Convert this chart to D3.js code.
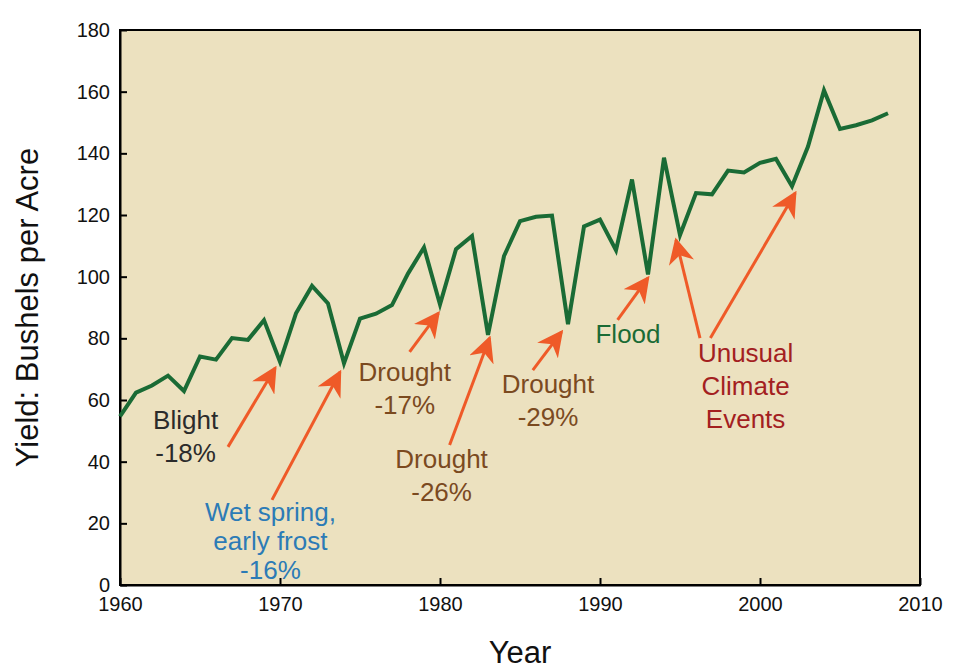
<!DOCTYPE html>
<html><head><meta charset="utf-8">
<script src="https://cdn.jsdelivr.net/npm/d3@7"></script>
<style>body{margin:0;background:#fff;font-family:"Liberation Sans",Arial,sans-serif}</style>
</head><body><svg id="chart" width="955" height="669"></svg>
<script>
const years = d3.range(1960, 2009);
const yields = [54.7,62.4,64.7,67.9,62.9,74.1,73.1,80.1,79.5,85.9,
  72.4,88.1,97.0,91.3,71.9,86.4,88.0,90.8,101.0,109.5,
  91.0,108.9,113.2,81.1,106.7,118.0,119.4,119.8,84.6,116.3,
  118.5,108.6,131.5,100.7,138.6,113.5,127.1,126.7,134.4,133.8,
  136.9,138.2,129.3,142.2,160.4,147.9,149.1,150.7,153.0];
const xTicks = [1960,1970,1980,1990,2000,2010];
const yTicks = d3.range(0, 181, 20);

// arrows: [x1,y1,x2,y2] in year/yield units
const arrows = [
  [1966.75,44.8,1969.7,70.4],
  [1969.5,27.6,1973.75,69.1],
  [1978.1,75.6,1979.9,88.2],
  [1980.6,45.4,1983.1,80.1],
  [1985.8,69.7,1987.6,82.1],
  [1991.1,86.0,1993.0,99.6],
  [1996.25,80.1,1994.75,111.9],
  [1996.9,80.1,2002.2,127.1]
];
// labels: lines, center year, first baseline value, colour
const labels = [
  {lines:["Blight","-18%"], x:1964.1, y:50.5, c:"#2b2b2b"},
  {lines:["Wet spring,","early frost","-16%"], x:1969.4, y:20.8, c:"#2c7bb6"},
  {lines:["Drought","-17%"], x:1977.8, y:66.2, c:"#7b4a1f"},
  {lines:["Drought","-26%"], x:1980.1, y:38.1, c:"#7b4a1f"},
  {lines:["Drought","-29%"], x:1986.75, y:62.3, c:"#7b4a1f"},
  {lines:["Flood"], x:1991.75, y:78.4, c:"#1a6b35"},
  {lines:["Unusual","Climate","Events"], x:1999.1, y:72.3, c:"#a3201f"}
];

const svg = d3.select("#chart");
const m = {l:120, r:35, t:30, b:84};
const W = 955 - m.l - m.r, H = 669 - m.t - m.b;
const g = svg.append("g").attr("transform", `translate(${m.l},${m.t})`);
const x = d3.scaleLinear().domain([1960, 2010]).range([0, W]);
const y = d3.scaleLinear().domain([0, 180]).range([H, 0]);

g.append("rect").attr("width", W).attr("height", H).attr("fill", "#ece1bf");

const xa = g.append("g").attr("transform", `translate(0,${H})`)
  .call(d3.axisBottom(x).tickValues(xTicks).tickFormat(d3.format("d")).tickSizeInner(-7).tickSizeOuter(0).tickPadding(12));
const ya = g.append("g")
  .call(d3.axisLeft(y).tickValues(yTicks).tickSizeInner(-7).tickSizeOuter(0).tickPadding(10));
[xa, ya].forEach(a => {
  a.attr("font-size", null).attr("font-family", null);
  a.selectAll("text").style("font-size", "20px").attr("fill", "#111").style("font-family", "Liberation Sans, Arial");
  a.selectAll("line").attr("stroke", "#000").attr("stroke-width", 2);
  a.select(".domain").attr("stroke", "#000").attr("stroke-width", 2);
});
g.append("rect").attr("width", W).attr("height", H).attr("fill", "none").attr("stroke", "#000").attr("stroke-width", 2);

g.append("path").datum(years.map((d, i) => [d, yields[i]]))
  .attr("d", d3.line().x(d => x(d[0])).y(d => y(d[1])))
  .attr("fill", "none").attr("stroke", "#1a6b35").attr("stroke-width", 4).attr("stroke-linejoin", "miter");

svg.append("defs").append("marker").attr("id", "ah")
  .attr("viewBox", "0 0 10 10").attr("refX", 9).attr("refY", 5)
  .attr("markerWidth", 26).attr("markerHeight", 26).attr("markerUnits", "userSpaceOnUse")
  .attr("orient", "auto")
  .append("path").attr("d", "M0,0 L10,5 L0,10 L3,5 Z").attr("fill", "#ef5a28");

g.selectAll(".arrow").data(arrows).join("line").attr("class", "arrow")
  .attr("x1", d => x(d[0])).attr("y1", d => y(d[1]))
  .attr("x2", d => x(d[2])).attr("y2", d => y(d[3]))
  .attr("stroke", "#ef5a28").attr("stroke-width", 3).attr("marker-end", "url(#ah)");

labels.forEach(l => {
  const t = g.append("text").attr("text-anchor", "middle").attr("font-size", 26).attr("fill", l.c);
  const step = l.lines.length > 2 && l.x < 1990 ? 29 : 33;
  l.lines.forEach((s, i) => t.append("tspan").attr("x", x(l.x)).attr("y", y(l.y) + i * step).text(s));
});

svg.append("text").attr("transform", `translate(38,${m.t + H / 2}) rotate(-90)`)
  .attr("text-anchor", "middle").attr("font-size", 31).attr("fill", "#111").text("Yield: Bushels per Acre");
svg.append("text").attr("x", m.l + W / 2).attr("y", 663).attr("text-anchor", "middle")
  .attr("font-size", 31).attr("fill", "#111").text("Year");
</script></body></html>
